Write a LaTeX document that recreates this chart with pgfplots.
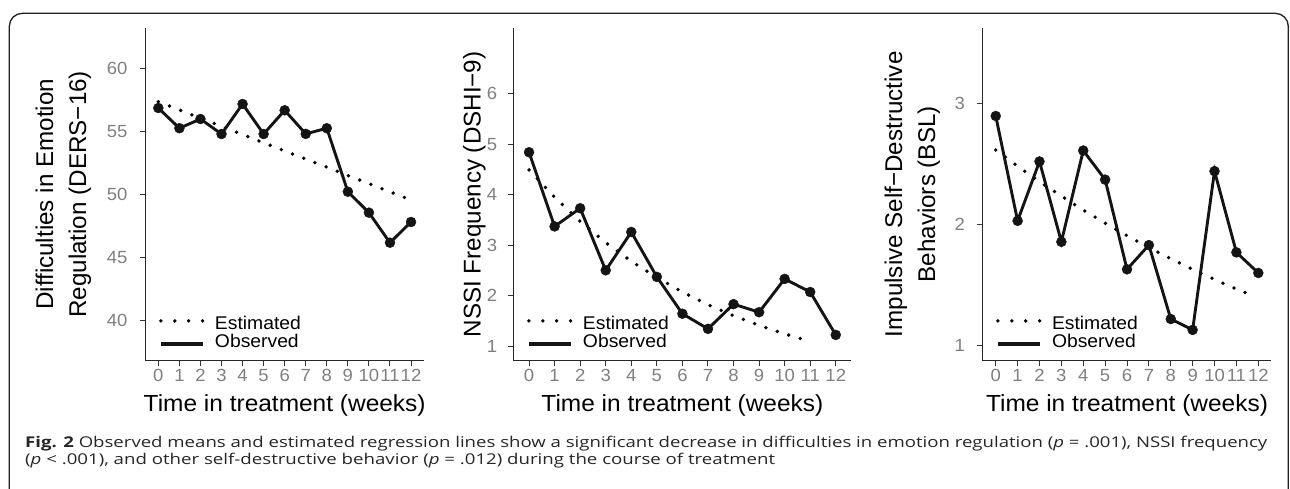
\documentclass[border=0pt]{standalone}
\usepackage{pgfplots}
\pgfplotsset{compat=1.18}
\usepackage{fontspec}
\usepackage{graphicx}
\setmainfont{Liberation Sans}
\newfontfamily\pf[FakeStretch=1.05]{Liberation Sans}
\newfontfamily\capfont{Open Sans}
\definecolor{tickgray}{HTML}{7F7F7F}
\definecolor{framecol}{HTML}{231F20}

\pgfplotsset{
  panel/.style={
    scale only axis,
    height=332.7pt,
    axis lines*=left,
    axis line style={black!85, line width=1pt},
    xmin=-0.6, xmax=12.6,
    xtick={0,...,12},
    tick align=outside,
    major tick length=5.7pt,
    every tick/.style={black!80, line width=1pt},
    /pgf/number format/assume math mode=true,
    tick label style={font=\pf\fontsize{17.6}{20}\selectfont, text=tickgray, inner sep=0pt},
    xticklabel style={anchor=north, yshift=-2.5pt},
    xlabel={Time in treatment (weeks)},
    xlabel style={at={(axis description cs:0.5,-0.1512)}, anchor=base, inner sep=0pt,
      font=\pf\fontsize{23.3}{26}\selectfont},
    ylabel style={inner sep=0pt, align=center, font=\fontsize{24.2}{33}\selectfont},
    legend cell align=left,
    legend style={draw=none, fill=none, inner sep=0pt, outer sep=0pt,
      anchor=north west, row sep=4.8pt,
      font=\pf\fontsize{18.4}{21}\selectfont,
      nodes={inner sep=0pt, text height=13.2pt, text depth=0pt}},
  },
  est/.style={black, line width=3.8pt, line cap=round, dash pattern=on 0pt off 12pt,
    legend image code/.code={
      \draw[black, line width=3.8pt, line cap=round, dash pattern=on 0pt off 13.9pt]
        (0pt,2.5pt) -- (41.7pt,2.5pt);
      \path (52.2pt,0pt);}},
  obs/.style={black!92, line width=2.9pt, mark=*, mark size=5pt,
    mark options={solid, fill=black!92, draw=black!92, line width=0.4pt},
    legend image code/.code={
      \draw[black!92, line width=3.3pt] (0pt,-2.5pt) -- (41.7pt,-2.5pt);
      \path (52.2pt,0pt);}},
}

\begin{document}
\begin{tikzpicture}[x=1pt,y=1pt]
\path[use as bounding box] (0,0) rectangle (1290,-488);
\draw[framecol, line width=1.3pt, rounded corners=13pt]
  (9.3,-540) -- (9.3,-13.3) -- (1288.3,-13.3) -- (1288.3,-540);

% Panel 1
\begin{axis}[panel, at={(145.7pt,-360.7pt)}, anchor=south west, width=277.96pt,
  ymin=36.83, ymax=63.19, ytick={40,45,50,55,60},
  yticklabel style={anchor=east, xshift=-12.4pt},
  ylabel={Difficulties in Emotion\\Regulation (DERS−16)},
  ylabel style={at={(axis description cs:-0.2961,0.5)}, anchor=center},
  legend style={at={(axis description cs:0.0478,0.132)}},
]
\addplot[est] coordinates {(0,57.35) (1,56.70) (2,56.05) (3,55.40) (4,54.75) (5,54.10)
  (6,53.45) (7,52.81) (8,52.16) (9,51.51) (10,50.86) (11,50.21) (12,49.56)};
\addlegendentry{Estimated}
\addplot[obs] coordinates {(0,56.85) (1,55.25) (2,55.98) (3,54.79) (4,57.17) (5,54.79)
  (6,56.67) (7,54.80) (8,55.25) (9,50.22) (10,48.56) (11,46.18) (12,47.82)};
\addlegendentry{Observed}
\end{axis}

% Panel 2
\begin{axis}[panel, at={(513.7pt,-360.7pt)}, anchor=south west, width=337.4pt,
  ymin=0.709, ymax=7.302, ytick={1,2,3,4,5,6},
  yticklabel style={anchor=east, xshift=-10.6pt},
  ylabel={NSSI Frequency (DSHI−9)},
  ylabel style={at={(axis description cs:-0.0978,0.5)}, anchor=base},
  legend style={at={(axis description cs:0.0394,0.132)}},
]
\addplot[est] coordinates {(0,4.49) (1,3.95) (2,3.47) (3,3.05) (4,2.68) (5,2.36)
  (6,2.07) (7,1.82) (8,1.60) (9,1.41) (10,1.24) (11,1.09)};
\addlegendentry{Estimated}
\addplot[obs] coordinates {(0,4.84) (1,3.37) (2,3.73) (3,2.50) (4,3.26) (5,2.37)
  (6,1.64) (7,1.34) (8,1.83) (9,1.67) (10,2.33) (11,2.07) (12,1.22)};
\addlegendentry{Observed}
\end{axis}

% Panel 3
\begin{axis}[panel, at={(982.6pt,-360.7pt)}, anchor=south west, width=288.8pt,
  ymin=0.876, ymax=3.621, ytick={1,2,3},
  yticklabel style={anchor=east, xshift=-11.9pt},
  ylabel={Impulsive Self−Destructive\\Behaviors (BSL)},
  ylabel style={at={(axis description cs:-0.2431,0.5)}, anchor=center},
  legend style={at={(axis description cs:0.0464,0.132)}},
]
\addplot[est] coordinates {(0,2.615) (1,2.481) (2,2.354) (3,2.234) (4,2.119) (5,2.011)
  (6,1.908) (7,1.810) (8,1.718) (9,1.630) (10,1.546) (11,1.467) (11.8,1.41)};
\addlegendentry{Estimated}
\addplot[obs] coordinates {(0,2.895) (1,2.03) (2,2.52) (3,1.857) (4,2.61) (5,2.37)
  (6,1.63) (7,1.83) (8,1.22) (9,1.13) (10,2.44) (11,1.77) (12,1.60)};
\addlegendentry{Observed}
\end{axis}

% Caption
\node[anchor=base west, inner sep=0pt, text=black!85] at (25,-447.3)
  {\resizebox{1242pt}{\height}{\capfont\fontsize{14.85}{18}\selectfont
   \textbf{Fig. 2} Observed means and estimated regression lines show a significant decrease in difficulties in emotion regulation (\textit{p} = .001), NSSI frequency}};
\node[anchor=base west, inner sep=0pt, text=black!85] at (25,-464.5)
  {\resizebox{750pt}{\height}{\capfont\fontsize{14.85}{18}\selectfont
   (\textit{p} < .001), and other self-destructive behavior (\textit{p} = .012) during the course of treatment}};
\end{tikzpicture}
\end{document}
